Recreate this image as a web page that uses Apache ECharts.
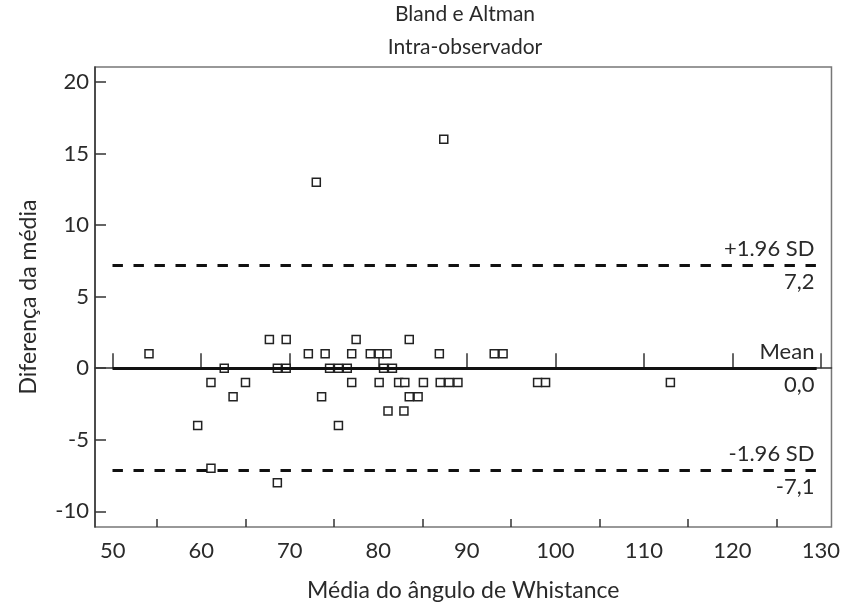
<!DOCTYPE html>
<html>
<head>
<meta charset="utf-8">
<script src="https://cdn.jsdelivr.net/npm/echarts@6/dist/echarts.min.js"></script>
<style>
html,body{margin:0;padding:0;background:#fff;}
#chart{width:843px;height:607px;}
</style>
</head>
<body>
<div id="chart"></div>
<script>
// Data
const meanX = [54.1, 59.6, 61.1, 61.1, 62.6, 63.6, 65.0, 67.7, 68.6, 68.6, 69.6, 69.6, 72.1, 73.0, 73.6, 74.0, 74.5, 75.5, 75.5, 76.5, 77.0, 77.0, 77.5, 79.1, 80.1, 80.1, 80.6, 81.0, 81.6, 81.1, 82.3, 83.0, 82.9, 83.5, 83.5, 84.5, 85.1, 86.9, 87.0, 87.4, 88.0, 89.0, 93.1, 94.1, 98.0, 98.9, 113.0];
const diffY = [1, -4, -1, -7, 0, -2, -1, 2, 0, -8, 2, 0, 1, 13, -2, 1, 0, 0, -4, 0, 1, -1, 2, 1, 1, -1, 0, 1, 0, -3, -1, -1, -3, 2, -2, -2, -1, 1, -1, 16, -1, -1, 1, 1, -1, -1, -1];
const refValues = [7.2, 0.0, -7.1];
const refNames = ['+1.96 SD', 'Mean', '-1.96 SD'];
const refTexts = ['7,2', '0,0', '-7,1'];
const refDashed = [true, false, true];
const lineSpan = [50, 129.5];
const xTicks = [50, 60, 70, 80, 90, 100, 110, 120, 130];
const xMinorTicks = [55, 65, 75, 85, 95, 105, 115, 125];
const yTicks = [-10, -5, 0, 5, 10, 15, 20];
const titleLines = ['Bland e Altman', 'Intra-observador'];
const xName = 'Média do ângulo de Whistance';
const yName = 'Diferença da média';

const FONT = 'Lato';
const TXT = '#2a2a2a';

const points = meanX.map((x, i) => [x, diffY[i]]);

const markData = [];
refValues.forEach((v, i) => {
  const style = {color: '#111', width: 3, type: refDashed[i] ? [10, 11] : 'solid'};
  markData.push([
    {coord: [lineSpan[0], v], lineStyle: style,
     label: {show: true, position: 'insideEndTop', formatter: refNames[i], distance: [2, 5],
             color: TXT, fontFamily: FONT, fontSize: 22}},
    {coord: [lineSpan[1], v]}
  ]);
  markData.push([
    {coord: [lineSpan[0], v], lineStyle: style,
     label: {show: true, position: 'insideEndBottom', formatter: refTexts[i], distance: [2, 6],
             color: TXT, fontFamily: FONT, fontSize: 22}},
    {coord: [lineSpan[1], v]}
  ]);
});

const chart = echarts.init(document.getElementById('chart'), null, {renderer: 'canvas'});
chart.setOption({
  animation: false,
  backgroundColor: '#fff',
  title: titleLines.map((t, i) => ({
    text: t,
    left: 465, top: 4 + i * 33, textAlign: 'center', padding: 0,
    textStyle: {fontFamily: FONT, fontSize: 21, fontWeight: 'normal', color: TXT}
  })),
  grid: {left: 95, right: 8, top: 67, bottom: 67, show: true, borderColor: '#777', borderWidth: 1.5, backgroundColor: 'transparent'},
  xAxis: [{
    type: 'value', min: 48, max: 131.2,
    name: xName, nameLocation: 'middle', nameGap: 52,
    nameTextStyle: {fontFamily: FONT, fontSize: 23, color: TXT},
    axisLine: {show: true, lineStyle: {color: '#333', width: 1.5}},
    axisTick: {show: true, inside: true, length: 15, customValues: xTicks, lineStyle: {color: '#333', width: 1.5}},
    axisLabel: {customValues: xTicks, margin: 13, fontFamily: FONT, fontSize: 22, color: TXT},
    splitLine: {show: false}
  }, {
    type: 'value', min: 48, max: 131.2, position: 'bottom',
    axisLine: {show: false},
    axisTick: {show: true, inside: true, length: 8, customValues: xMinorTicks, lineStyle: {color: '#333', width: 1.5}},
    axisLabel: {show: false},
    splitLine: {show: false}
  }],
  yAxis: {
    type: 'value', min: -11.1, max: 21.05,
    name: yName, nameLocation: 'middle', nameGap: 55, nameRotate: 90,
    nameTextStyle: {fontFamily: FONT, fontSize: 23, color: TXT},
    axisLine: {show: true, lineStyle: {color: '#333', width: 1.5}},
    axisTick: {show: true, inside: true, length: 11, customValues: yTicks, lineStyle: {color: '#333', width: 1.5}},
    axisLabel: {customValues: yTicks, margin: 6, fontFamily: FONT, fontSize: 22, color: TXT},
    splitLine: {show: false}
  },
  series: [{
    type: 'scatter',
    xAxisIndex: 0,
    data: points,
    symbol: 'rect',
    symbolSize: 8,
    z: 2,
    itemStyle: {color: '#fff', borderColor: '#222', borderWidth: 1.5, opacity: 1},
    markLine: {
      silent: true, symbol: 'none', animation: false, z: 5,
      data: markData
    }
  }]
});
</script>
</body>
</html>
